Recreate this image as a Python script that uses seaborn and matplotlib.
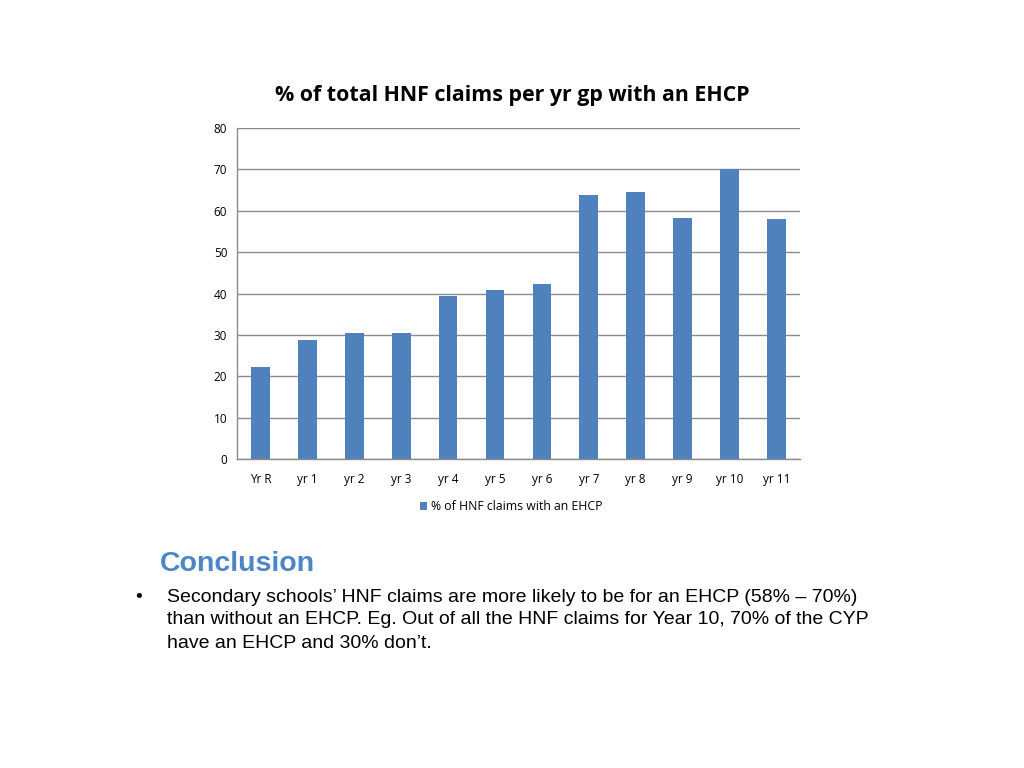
import numpy as np
import pandas as pd
import matplotlib
matplotlib.use('Agg')
import matplotlib.pyplot as plt
import seaborn as sns

# Values
years = ['Yr R', 'yr 1', 'yr 2', 'yr 3', 'yr 4', 'yr 5', 'yr 6',
         'yr 7', 'yr 8', 'yr 9', 'yr 10', 'yr 11']
pct_ehcp = [22.2, 28.8, 30.5, 30.4, 39.5, 40.8, 42.4,
            63.8, 64.6, 58.3, 70.0, 57.9]
y_ticks = [0, 10, 20, 30, 40, 50, 60, 70, 80]
series_name = '% of HNF claims with an EHCP'

df = pd.DataFrame({'year': years, 'pct': pct_ehcp})

sns.set_theme(style='white')
plt.rcParams['font.family'] = ['Open Sans', 'DejaVu Sans']
plt.rcParams['text.color'] = 'black'
plt.rcParams['xtick.labelcolor'] = 'black'
plt.rcParams['ytick.labelcolor'] = 'black'

bar_col = '#4F81BD'
grid_col = '#8C8C8C'

fig = plt.figure(figsize=(10.24, 7.68), dpi=100)
ax = fig.add_axes([0.2314, 0.4023, 0.5498, 0.4310])

sns.barplot(data=df, x='year', y='pct', color=bar_col, width=0.4,
            saturation=1, ax=ax, label=series_name, linewidth=0)

ax.set_ylim(0, 80)
ax.set_xlim(-0.5, len(years) - 0.5)
ax.set_yticks(y_ticks)
ax.yaxis.grid(True, color=grid_col, linewidth=1)
ax.set_axisbelow(True)
ax.set_xlabel('')
ax.set_ylabel('')

for s in ['top', 'right']:
    ax.spines[s].set_visible(False)
for s in ['left', 'bottom']:
    ax.spines[s].set_color(grid_col)
    ax.spines[s].set_linewidth(1)

ax.tick_params(axis='y', length=4, color=grid_col, labelsize=8.5, pad=3)
ax.tick_params(axis='x', which='major', length=0, labelsize=8.5, pad=10)
ax.set_xticks(np.arange(-0.5, len(years)), minor=True)
ax.tick_params(axis='x', which='minor', length=5, color=grid_col)

fig.text(0.5, 1 - 96 / 768, '% of total HNF claims per yr gp with an EHCP',
         ha='center', va='center', fontsize=15.4, fontweight='bold')

ax.legend(loc='center', frameon=False, fontsize=8.8, handlelength=0.6,
          handleheight=0.6, handletextpad=0.3)
leg = ax.get_legend()
leg.set_bbox_to_anchor((0.499, 1 - 507 / 768), transform=fig.transFigure)

body_font = ['Liberation Sans', 'DejaVu Sans']
fig.text(160 / 1024, 1 - 564 / 768, 'Conclusion', ha='left', va='center',
         fontsize=20.5, fontweight='bold', color='#4A86C8', family=body_font)
fig.text(135 / 1024, 1 - 597 / 768, '\u2022', ha='left', va='center',
         fontsize=14, family=body_font)
lines = ['Secondary schools\u2019 HNF claims are more likely to be for an EHCP (58% \u2013 70%)',
         'than without an EHCP. Eg. Out of all the HNF claims for Year 10, 70% of the CYP',
         'have an EHCP and 30% don\u2019t.']
for i, line in enumerate(lines):
    fig.text(167 / 1024, 1 - (597 + 23 * i) / 768, line, ha='left', va='center',
             fontsize=14, family=body_font)

fig.savefig('out.png', dpi=100)
